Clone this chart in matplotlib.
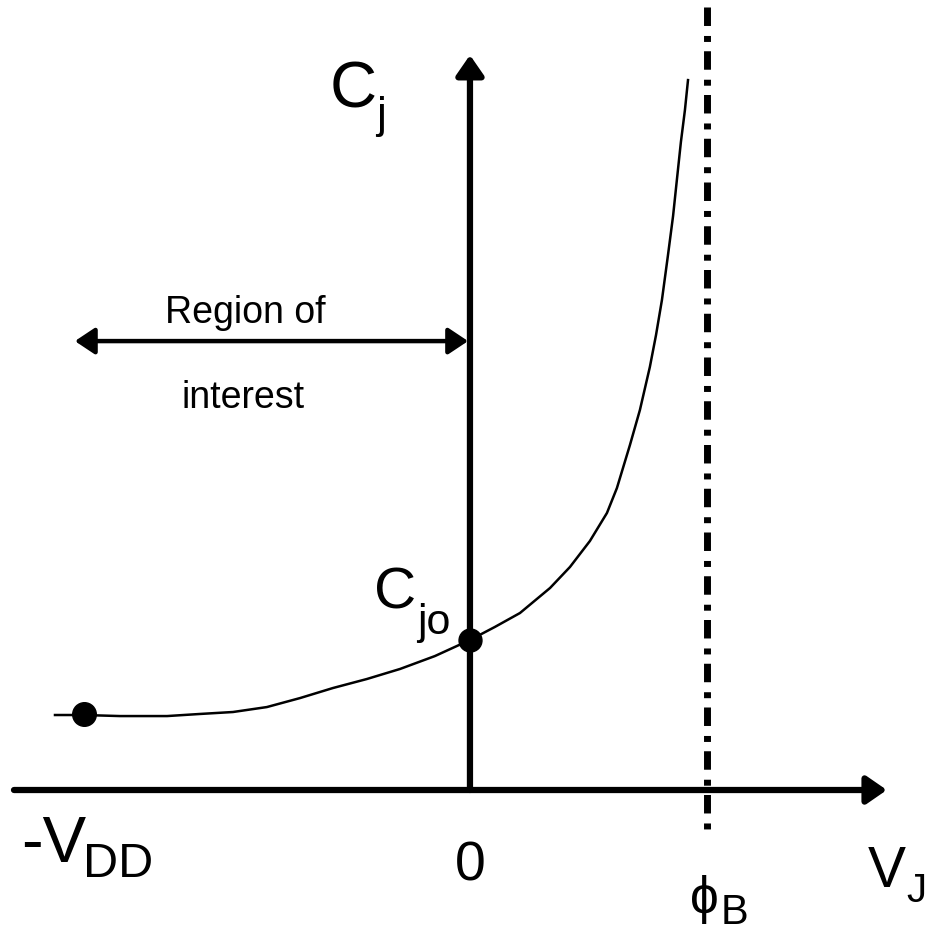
import matplotlib
matplotlib.use('Agg')
import matplotlib.pyplot as plt
import numpy as np

plt.rcParams['font.family'] = ['Liberation Sans', 'DejaVu Sans']
plt.rcParams['lines.scale_dashes'] = False

# junction capacitance curve (V in units of phi_B, C in units of Cjo)
v_j = [-1.751, -1.629, -1.477, -1.278, -1.139, -1.000, -0.857, -0.717, -0.578, -0.435,
       -0.295, -0.148, 0.0, 0.105, 0.211, 0.338, 0.422, 0.506, 0.578, 0.620,
       0.675, 0.717, 0.759, 0.785, 0.810, 0.835, 0.857, 0.873, 0.890, 0.907, 0.920]
c_j = [0.500, 0.500, 0.493, 0.493, 0.507, 0.520, 0.553, 0.613, 0.680, 0.740,
       0.807, 0.893, 1.0, 1.087, 1.180, 1.347, 1.487, 1.660, 1.847, 2.013,
       2.300, 2.533, 2.820, 3.033, 3.267, 3.560, 3.827, 4.067, 4.320, 4.533, 4.733]

phi_b = 1.0
v_dd = -1.629
c_dd = 0.505
c_jo = 1.0

fig = plt.figure(figsize=(9.25, 9.34), dpi=100)
ax = fig.add_axes([0, 0, 1, 1])
ax.set_xlim(-1.983, 1.920)
ax.set_ylim(-0.96, 5.267)
ax.axis('off')

# built-in potential line
ax.plot([phi_b, phi_b], [5.22, -0.32], color='k', lw=5,
        linestyle=(0, (13.3, 7.2, 4.3, 6.7)), dash_capstyle='butt', zorder=1)

# axes with arrows
ax.annotate('', xy=(1.759, 0), xytext=(-1.924, 0),
            arrowprops=dict(arrowstyle='-|>,head_length=0.55,head_width=0.38',
                            mutation_scale=22, lw=4.5, color='k',
                            shrinkA=0, shrinkB=0), zorder=2)
ax.annotate('', xy=(0, 4.9), xytext=(0, 0),
            arrowprops=dict(arrowstyle='-|>,head_length=0.55,head_width=0.38',
                            mutation_scale=22, lw=4.5, color='k',
                            shrinkA=0, shrinkB=0), zorder=2)

# region of interest
ax.annotate('', xy=(-1.667, 2.993), xytext=(-0.008, 2.993),
            arrowprops=dict(arrowstyle='<|-|>,head_length=0.6,head_width=0.4',
                            mutation_scale=20, lw=3.2, color='k',
                            shrinkA=0, shrinkB=0), zorder=2)
ax.text(-0.949, 3.113, 'Region of', fontsize=27, ha='center', va='baseline')
ax.text(-0.958, 2.547, 'interest', fontsize=27, ha='center', va='baseline')

# curve and points
ax.plot(v_j, c_j, color='k', lw=1.8, solid_joinstyle='round', zorder=3)
ax.plot([v_dd], [c_dd], 'o', color='k', ms=17, zorder=4)
ax.plot([0], [c_jo], 'o', color='k', ms=16.5, zorder=4)

# labels
ax.text(-0.591, 4.547, 'C', fontsize=47, ha='left', va='baseline')
ax.text(-0.398, 4.413, 'j', fontsize=32, ha='left', va='baseline')
ax.text(-0.405, 1.213, 'C', fontsize=42, ha='left', va='baseline')
ax.text(-0.225, 1.04, 'jo', fontsize=31, ha='left', va='baseline')
ax.text(-1.895, -0.48, '-V', fontsize=47, ha='left', va='baseline')
ax.text(-1.633, -0.58, 'DD', fontsize=35, ha='left', va='baseline')
ax.text(0.0, -0.6, '0', fontsize=40, ha='center', va='baseline')
ax.text(1.680, -0.647, 'V', fontsize=41, ha='left', va='baseline')
ax.text(1.842, -0.747, 'J', fontsize=29, ha='left', va='baseline')
ax.text(0.987, -0.82, '\u03d5', fontsize=37, ha='center', va='baseline')
ax.text(1.059, -0.895, 'B', fontsize=30, ha='left', va='baseline')

fig.savefig('out.png', dpi=100)
